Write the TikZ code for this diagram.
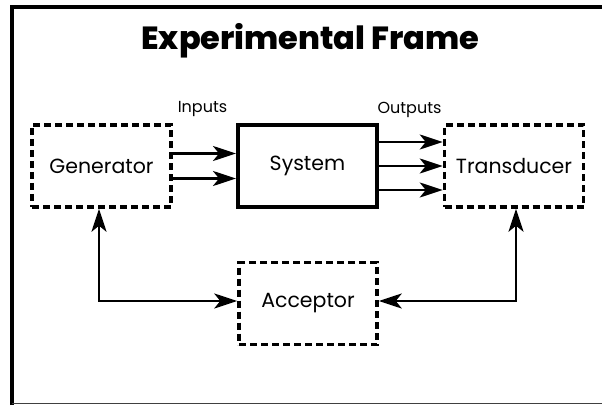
\documentclass[tikz,border=0pt]{standalone}
\usepackage{fontspec}
\setmainfont{Poppins}
\newfontfamily\titlefont{Poppins ExtraBold}
\usetikzlibrary{arrows.meta}

\tikzset{
  tip/.tip={Stealth[length=23pt,width=15pt,inset=6pt]},
  block/.style={draw, line width=4pt, minimum width=#1, minimum height=82pt,
                inner sep=0pt, font=\fontsize{20.5}{25}\selectfont},
  block/.default=139pt,
  dblock/.style={block=#1, line width=3.5pt, dash pattern=on 7pt off 4pt},
  dblock/.default=139pt,
  flow/.style={line width=2.6pt, -tip},
  fb/.style={line width=2.6pt, tip-tip},
  tag/.style={font=\fontsize{16}{19}\selectfont, inner sep=0pt},
}

\begin{document}
\begin{tikzpicture}[x=1pt, y=-1pt]
  \useasboundingbox (0,0) rectangle (602,406);
  \begin{scope}
    \clip (0,0) rectangle (602,406);
    % outer frame, running off the right side
    \draw[line width=4pt] (12,405) -- (12,7) -- (610,7);
    \draw[line width=1.6pt, black!75] (12,403.5) -- (610,403.5);
  \end{scope}

  \node[font=\fontsize{32}{37}\selectfont\titlefont, inner sep=0pt]
    (title) at (310.5,40.5) {Experimental Frame};

  % blocks
  \node[dblock=139pt] (gen) at (101.5,166) {Generator};
  \node[block=139pt]  (sys) at (307.5,166) {System};
  \node[dblock=139pt] (tra) at (514,166)   {Transducer};
  \node[dblock=138pt, minimum height=82pt] (acc) at (308,303.5) {Acceptor};

  % labels
  \node[tag] (inp) at (202.5,109.5) {Inputs};
  \node[tag] (outp) at (409.5,109.5) {Outputs};

  % inputs
  \draw[flow] ([yshift=-12.5pt]gen.east) -- ([yshift=-12.5pt]gen.east -| sys.west);
  \draw[flow] ([yshift=12.5pt]gen.east) -- ([yshift=12.5pt]gen.east -| sys.west);

  % outputs
  \draw[flow] ([yshift=-24pt]sys.east) -- ([yshift=-24pt]sys.east -| tra.west);
  \draw[flow] (sys.east) -- (tra.west);
  \draw[flow] ([yshift=24pt]sys.east) -- ([yshift=24pt]sys.east -| tra.west);

  % feedback through the acceptor
  \draw[fb] ([xshift=-2.5pt]gen.south) |- ([yshift=2.5pt]acc.west);
  \draw[fb] ([xshift=2pt]tra.south) |- ([yshift=2.5pt]acc.east);
\end{tikzpicture}
\end{document}
